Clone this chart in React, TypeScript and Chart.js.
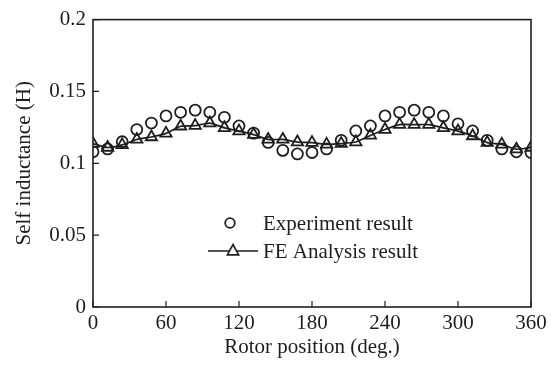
import React, { useEffect, useRef } from "react";
import { Chart, registerables } from "chart.js";

Chart.register(...registerables);

const angles = [0, 12, 24, 36, 48, 60, 72, 84, 96, 108, 120, 132, 144, 156, 168, 180, 192, 204, 216, 228, 240, 252, 264, 276, 288, 300, 312, 324, 336, 348, 360];
const experiment = [0.108, 0.110, 0.115, 0.1235, 0.128, 0.133, 0.1355, 0.137, 0.1355, 0.132, 0.126, 0.121, 0.1145, 0.109, 0.1065, 0.1075, 0.110, 0.116, 0.1225, 0.126, 0.133, 0.1355, 0.137, 0.1355, 0.133, 0.1275, 0.1225, 0.116, 0.110, 0.108, 0.1075];
const feAnalysis = [0.1137, 0.111, 0.1128, 0.1166, 0.1183, 0.1208, 0.1258, 0.1262, 0.128, 0.1247, 0.1224, 0.120, 0.1166, 0.1166, 0.1148, 0.1144, 0.1132, 0.1137, 0.1148, 0.1194, 0.1235, 0.1269, 0.1269, 0.1269, 0.1247, 0.1224, 0.119, 0.1144, 0.1132, 0.1098, 0.111];
const seriesLabels = ["Experiment result", "FE Analysis result"];
const xTitle = "Rotor position (deg.)";
const yTitle = "Self inductance (H)";

const FONT = "'Liberation Serif', 'Times New Roman', serif";
const FS = 21;
const INK = "#1e1e1e";

const frame = {
  id: "frame",
  afterDraw(chart: any) {
    const { ctx, chartArea: a, scales } = chart;
    ctx.save();
    ctx.strokeStyle = INK;
    ctx.lineWidth = 1.6;
    ctx.strokeRect(a.left, a.top, a.right - a.left, a.bottom - a.top);
    ctx.lineWidth = 1.2;
    ctx.beginPath();
    for (const t of scales.x.ticks) {
      const px = scales.x.getPixelForValue(t.value);
      ctx.moveTo(px, a.bottom);
      ctx.lineTo(px, a.bottom - 6);
    }
    for (const t of scales.y.ticks) {
      const py = scales.y.getPixelForValue(t.value);
      ctx.moveTo(a.left, py);
      ctx.lineTo(a.left + 6, py);
    }
    ctx.stroke();

    // legend
    ctx.fillStyle = INK;
    ctx.font = `${FS}px ${FONT}`;
    ctx.textBaseline = "middle";
    ctx.textAlign = "left";
    ctx.lineWidth = 1.8;
    ctx.beginPath();
    ctx.arc(230, 223, 4.8, 0, Math.PI * 2);
    ctx.stroke();
    ctx.fillText(seriesLabels[0], 263, 224);
    ctx.lineWidth = 1.6;
    ctx.beginPath();
    ctx.moveTo(208, 251);
    ctx.lineTo(258, 251);
    ctx.stroke();
    const r = 6.5;
    ctx.fillStyle = "#fff";
    ctx.beginPath();
    ctx.moveTo(233, 251 - r);
    ctx.lineTo(233 + r * 0.87, 251 + r * 0.6);
    ctx.lineTo(233 - r * 0.87, 251 + r * 0.6);
    ctx.closePath();
    ctx.fill();
    ctx.stroke();
    ctx.fillStyle = INK;
    ctx.fillText(seriesLabels[1], 263, 252);
    ctx.restore();
  },
};

export default function App() {
  const ref = useRef<HTMLCanvasElement>(null);
  useEffect(() => {
    if (!ref.current) return;
    const chart = new Chart(ref.current, {
      type: "line",
      data: {
        datasets: [
          {
            label: seriesLabels[0],
            data: angles.map((a, i) => ({ x: a, y: experiment[i] })),
            showLine: false,
            pointStyle: "circle",
            pointRadius: 5.5,
            pointBorderWidth: 1.8,
            pointBorderColor: INK,
            pointBackgroundColor: "rgba(255,255,255,0)",
            borderColor: INK,
          },
          {
            label: seriesLabels[1],
            data: angles.map((a, i) => ({ x: a, y: feAnalysis[i] })),
            showLine: true,
            tension: 0.2,
            borderColor: INK,
            borderWidth: 1.7,
            pointStyle: "triangle",
            pointRadius: 6.5,
            pointBorderWidth: 1.8,
            pointBorderColor: INK,
            pointBackgroundColor: "rgba(255,255,255,0)",
          },
        ],
      },
      options: {
        animation: false,
        responsive: false,
        maintainAspectRatio: false,
        layout: { padding: { left: 0, top: 17, right: 20, bottom: 0 } },
        plugins: { legend: { display: false }, tooltip: { enabled: false } },
        scales: {
          x: {
            type: "linear",
            min: 0,
            max: 360,
            grid: { display: false, drawTicks: false, tickLength: 0 },
            border: { display: false },
            afterFit: (s: any) => { s.height = 60; },
            ticks: {
              stepSize: 60,
              color: INK,
              padding: 4,
              font: { family: FONT, size: FS },
              maxRotation: 0,
            },
            title: {
              display: true,
              text: xTitle,
              color: INK,
              font: { family: FONT, size: FS },
              padding: { top: 0, bottom: 7 },
            },
          },
          y: {
            min: 0,
            max: 0.2,
            grid: { display: false, drawTicks: false, tickLength: 0 },
            border: { display: false },
            afterFit: (s: any) => { s.width = 93; },
            ticks: {
              stepSize: 0.05,
              color: INK,
              padding: 7,
              font: { family: FONT, size: FS },
              callback: (v: any) => String(Math.round(Number(v) * 100) / 100),
            },
            title: {
              display: true,
              text: yTitle,
              color: INK,
              font: { family: FONT, size: FS },
              padding: { top: 12, bottom: 0 },
            },
          },
        },
      },
      plugins: [frame],
    });
    return () => chart.destroy();
  }, []);
  return (
    <div style={{ position: "fixed", left: 0, top: 0, width: 551, height: 367, background: "#fff" }}>
      <canvas ref={ref} width={551} height={367} style={{ width: 551, height: 367 }} />
    </div>
  );
}
